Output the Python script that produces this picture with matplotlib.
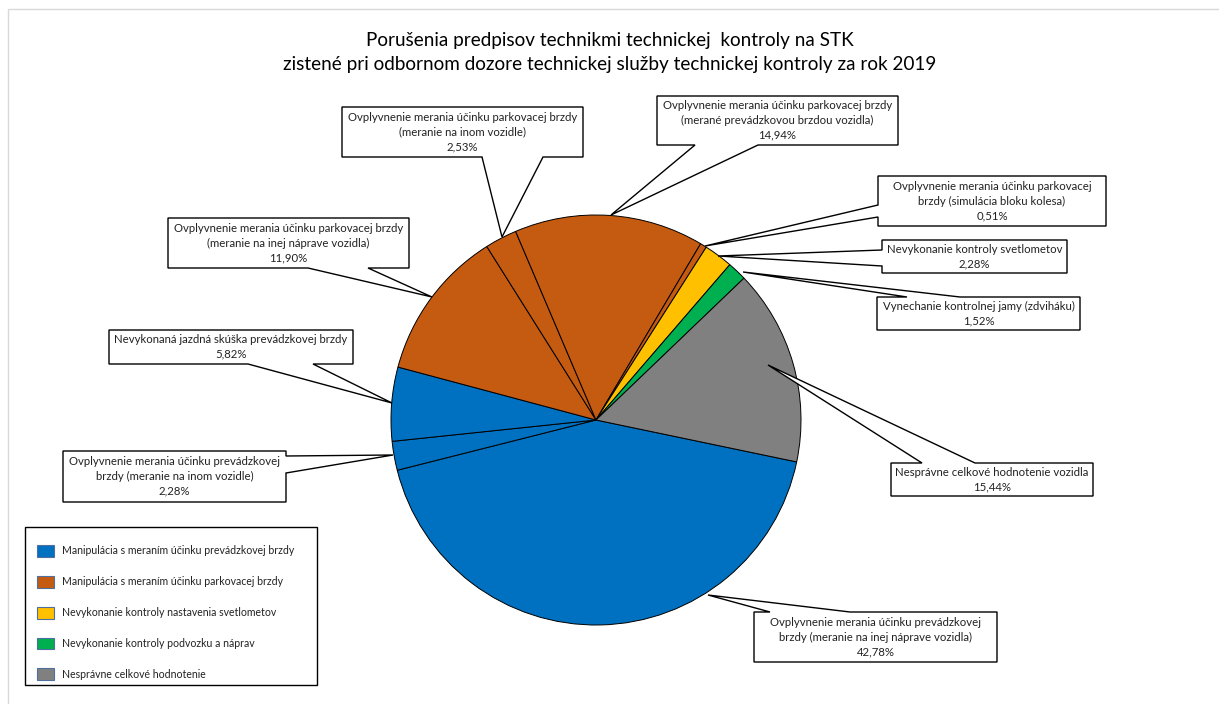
import matplotlib
matplotlib.use('Agg')
from matplotlib import pyplot as plt
from matplotlib.patches import Polygon, Patch, Rectangle

plt.rcParams['font.family'] = ['Lato', 'DejaVu Sans']

W, H = 1219, 704

title = ('Porušenia predpisov technikmi technickej  kontroly na STK\n'
         'zistené pri odbornom dozore technickej služby technickej kontroly za rok 2019')

# slices in clockwise order
slice_labels = [
    'Ovplyvnenie merania účinku prevádzkovej\nbrzdy (meranie na inej náprave vozidla)',
    'Ovplyvnenie merania účinku prevádzkovej\nbrzdy (meranie na inom vozidle)',
    'Nevykonaná jazdná skúška prevádzkovej brzdy',
    'Ovplyvnenie merania účinku parkovacej brzdy\n(meranie na inej náprave vozidla)',
    'Ovplyvnenie merania účinku parkovacej brzdy\n(meranie na inom vozidle)',
    'Ovplyvnenie merania účinku parkovacej brzdy\n(merané prevádzkovou brzdou vozidla)',
    'Ovplyvnenie merania účinku parkovacej\nbrzdy (simulácia bloku kolesa)',
    'Nevykonanie kontroly svetlometov',
    'Vynechanie kontrolnej jamy (zdviháku)',
    'Nesprávne celkové hodnotenie vozidla',
]
slice_values = [42.78, 2.28, 5.82, 11.90, 2.53, 14.94, 0.51, 2.28, 1.52, 15.44]
slice_groups = [0, 0, 0, 1, 1, 1, 1, 2, 3, 4]

group_names = [
    'Manipulácia s meraním účinku prevádzkovej brzdy',
    'Manipulácia s meraním účinku parkovacej brzdy',
    'Nevykonanie kontroly nastavenia svetlometov',
    'Nevykonanie kontroly podvozku a náprav',
    'Nesprávne celkové hodnotenie',
]
group_colors = ['#0070C0', '#C55A11', '#FFC000', '#00B050', '#808080']

# callout layout in pixels: box (x0, y0, x1, y1), side of pointer, pointer base, pointer tip
callouts = [
    ((754, 612, 997, 662), 'top', (770, 850), (708, 595)),
    ((63, 451, 286, 502), 'right', (456, 473), (393, 455)),
    ((109, 330, 353, 364), 'bottom', (248, 313), (392, 403)),
    ((168, 218, 409, 268), 'bottom', (308, 368), (432, 297)),
    ((342, 107, 583, 157), 'bottom', (482, 543), (502, 237)),
    ((657, 96, 898, 145), 'bottom', (695, 758), (611, 215)),
    ((878, 176, 1106, 226), 'left', (205, 217), (705, 246)),
    ((882, 240, 1067, 273), 'left', (250, 266), (718, 256)),
    ((877, 297, 1080, 330), 'top', (907, 960), (743, 272)),
    ((891, 463, 1093, 496), 'top', (922, 975), (768, 365)),
]


def fy(y):  # pixel row -> data y
    return H - y


def callout_poly(box, side, base, tip):
    x0, y0, x1, y1 = box
    b1, b2 = base
    if side == 'top':
        pts = [(x0, y0), (b1, y0), tip, (b2, y0), (x1, y0), (x1, y1), (x0, y1)]
    elif side == 'right':
        pts = [(x0, y0), (x1, y0), (x1, b1), tip, (x1, b2), (x1, y1), (x0, y1)]
    elif side == 'bottom':
        pts = [(x0, y0), (x1, y0), (x1, y1), (b2, y1), tip, (b1, y1), (x0, y1)]
    else:
        pts = [(x0, y0), (x1, y0), (x1, y1), (x0, y1), (x0, b2), tip, (x0, b1)]
    return [(x, fy(y)) for x, y in pts]


fig = plt.figure(figsize=(W / 100, H / 100), dpi=100)
ax = fig.add_axes([0, 0, 1, 1])

colors = [group_colors[g] for g in slice_groups]
ax.pie(slice_values, colors=colors, startangle=-11.8, counterclock=False,
       center=(596, fy(420)), radius=205,
       wedgeprops=dict(edgecolor='black', linewidth=0.7))

for lab, v, (box, side, base, tip) in zip(slice_labels, slice_values, callouts):
    ax.add_patch(Polygon(callout_poly(box, side, base, tip), closed=True,
                         facecolor='white', edgecolor='black', linewidth=1.0, zorder=5))
    txt = lab + '\n' + ('%.2f' % v).replace('.', ',') + '%'
    ax.text((box[0] + box[2]) / 2, fy((box[1] + box[3]) / 2), txt, ha='center', va='center',
            fontsize=8.2, linespacing=1.4, color='#222222', zorder=6)

ax.text(610, fy(52.5), title, ha='center', va='center', fontsize=13.6, linespacing=1.5, color='black')

# legend (frame drawn separately to match the uneven padding)
handles = [Patch(facecolor=c, edgecolor='#4f6f9f', linewidth=0.8) for c in group_colors]
leg = ax.legend(handles, group_names, loc='upper left', bbox_to_anchor=(37 / W, 1 - 545 / H),
                borderaxespad=0, frameon=False, borderpad=0,
                fontsize=7.6, labelspacing=1.8, handlelength=1.65, handleheight=1.35,
                handletextpad=0.7)
for t in leg.get_texts():
    t.set_color('#222222')
ax.add_patch(Rectangle((25, fy(685)), 292, 158, fill=False, edgecolor='black', linewidth=1.0))

ax.set_xlim(0, W)
ax.set_ylim(0, H)
ax.set_aspect('equal')
ax.axis('off')

fig.patches.append(Rectangle((8 / W, -0.1), 1.2, 1 - 9 / H + 0.1, transform=fig.transFigure,
                             fill=False, edgecolor='#d9d9d9', linewidth=1.0))

plt.savefig('out.png', dpi=100)
